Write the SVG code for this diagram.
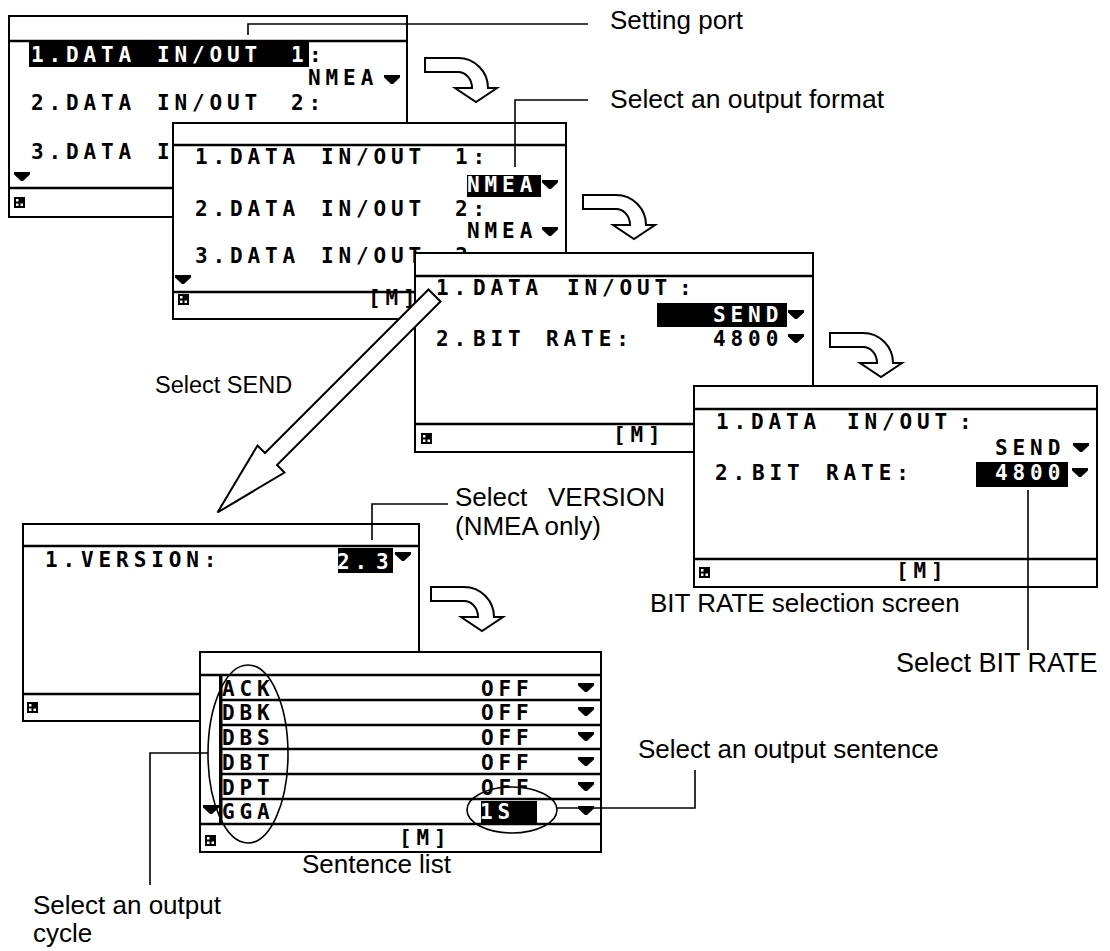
<svg xmlns="http://www.w3.org/2000/svg" xmlns:xlink="http://www.w3.org/1999/xlink" width="1110" height="951" viewBox="0 0 1110 951">
<style>
.box{fill:#fff;stroke:#000;stroke-width:2}
.ln{stroke:#000;stroke-width:2.5;fill:none}
.hl{fill:#000}
.lcd{font-family:"DejaVu Sans Mono","Liberation Mono",monospace;font-weight:bold;font-size:21px;letter-spacing:4.9px;fill:#000}
.w{fill:#fff}
.lbl{font-family:"Liberation Sans",Arial,sans-serif;font-size:26px;fill:#000}
.lead{stroke:#000;stroke-width:1.6;fill:none}
.arr{fill:#fff;stroke:#000;stroke-width:2;stroke-linejoin:miter}
.ell{fill:none;stroke:#000;stroke-width:1.6}
</style>
<defs>
<path id="carrow" d="M0,0 H33 A30,30 0 0 1 63,30 H72 L51,44 L30,30 H47 A14,16 0 0 0 33,14 H0 Z"/>
<polygon id="tri" points="0,0 16,0 16,2.5 9,9 7,9 0,2.5"/>
<g id="ico"><rect x="0" y="0" width="11" height="11" fill="#000"/><rect x="2" y="2" width="2.5" height="2.5" fill="#fff"/><rect x="2" y="6.5" width="2.5" height="2.5" fill="#fff"/><rect x="6.5" y="6.5" width="2.5" height="2.5" fill="#fff"/></g>
</defs>

<g id="screen1">
<rect class="box" x="9" y="16" width="398" height="201"/>
<line class="ln" x1="9" y1="41" x2="407" y2="41"/>
<line class="ln" x1="9" y1="188" x2="407" y2="188"/>
<rect class="hl" x="29" y="41" width="280" height="26"/>
<text class="lcd w" y="62" x="31 48.5 66 66 83.5 101 118.5 136 157 174.5 192 209.5 227 244.5 262 291">1. DATA IN/OUT 1</text>
<text class="lcd" x="309" y="62">:</text>
<text class="lcd" x="308" y="85">NMEA</text>
<use href="#tri" x="384" y="75"/>
<text class="lcd" y="110" x="31 48.5 66 66 83.5 101 118.5 136 157 174.5 192 209.5 227 244.5 262 291">2. DATA IN/OUT 2:</text>
<text class="lcd" y="159" x="31 48.5 66 66 83.5 101 118.5 136 157">3. DATA I</text>
<use href="#tri" x="14" y="172"/>
<use href="#ico" x="14" y="197"/>
</g>

<g id="screen2">
<rect class="box" x="173" y="123" width="393" height="196"/>
<line class="ln" x1="173" y1="145" x2="566" y2="145"/>
<line class="ln" x1="173" y1="292" x2="566" y2="292"/>
<text class="lcd" y="164" x="195 212.5 230 230 247.5 265 282.5 300 321 338.5 356 373.5 391 408.5 426 455">1. DATA IN/OUT 1:</text>
<rect class="hl" x="467" y="175" width="74" height="22"/>
<text class="lcd w" x="467" y="192">NMEA</text>
<use href="#tri" x="542" y="180"/>
<text class="lcd" y="216" x="195 212.5 230 230 247.5 265 282.5 300 321 338.5 356 373.5 391 408.5 426 455">2. DATA IN/OUT 2:</text>
<text class="lcd" x="467" y="238">NMEA</text>
<use href="#tri" x="542" y="227"/>
<text class="lcd" y="263" x="195 212.5 230 230 247.5 265 282.5 300 321 338.5 356 373.5 391 408.5 426 455">3. DATA IN/OUT 3:</text>
<use href="#tri" x="175" y="275"/>
<use href="#ico" x="178" y="294"/>
<text class="lcd" x="368" y="305">[M]</text>
</g>

<g id="screen3">
<rect class="box" x="415" y="253" width="398" height="199"/>
<line class="ln" x1="415" y1="276" x2="813" y2="276"/>
<line class="ln" x1="415" y1="424" x2="813" y2="424"/>
<text class="lcd" y="295" x="436 453.5 473 473 490.5 508 525.5 543 567 584.5 602 619.5 637 654.5 679">1. DATA IN/OUT:</text>
<rect class="hl" x="657" y="303" width="130" height="24"/>
<text class="lcd w" x="713" y="322">SEND</text>
<use href="#tri" x="788" y="310"/>
<text class="lcd" y="346" x="436 453.5 473 473 490.5 508 546 546">2. BIT RATE:</text>
<text class="lcd" x="713" y="346">4800</text>
<use href="#tri" x="788" y="334"/>
<use href="#ico" x="421" y="433"/>
<text class="lcd" x="613" y="442">[M]</text>
</g>

<g id="screen4">
<rect class="box" x="694" y="386" width="403" height="201"/>
<line class="ln" x1="694" y1="409" x2="1097" y2="409"/>
<line class="ln" x1="694" y1="559" x2="1097" y2="559"/>
<text class="lcd" y="429" x="716 733.5 751 751 768.5 786 803.5 821 847 864.5 882 899.5 917 934.5 959">1. DATA IN/OUT:</text>
<text class="lcd" x="995" y="455">SEND</text>
<use href="#tri" x="1073" y="443"/>
<text class="lcd" y="480" x="715 732.5 752 752 769.5 787 826 826">2. BIT RATE:</text>
<rect class="hl" x="976" y="462" width="92" height="25"/>
<text class="lcd w" x="995" y="480">4800</text>
<use href="#tri" x="1072" y="468"/>
<use href="#ico" x="699" y="567"/>
<text class="lcd" x="896" y="578">[M]</text>
</g>

<g id="screen5">
<rect class="box" x="23" y="524" width="396" height="197"/>
<line class="ln" x1="23" y1="546" x2="419" y2="546"/>
<line class="ln" x1="23" y1="694" x2="419" y2="694"/>
<text class="lcd" y="567" x="45 62.5 81 81">1. VERSION:</text>
<rect class="hl" x="338" y="548" width="55" height="25"/>
<text class="lcd w" y="569" x="337 354.5 376">2.3</text>
<use href="#tri" x="395" y="552"/>
<use href="#ico" x="27" y="702"/>
</g>

<g id="screen6">
<rect class="box" x="200" y="652" width="401" height="200"/>
<line class="ln" x1="200" y1="675" x2="601" y2="675"/>
<line class="ln" x1="221" y1="700" x2="601" y2="700"/>
<line class="ln" x1="221" y1="725" x2="601" y2="725"/>
<line class="ln" x1="221" y1="749" x2="601" y2="749"/>
<line class="ln" x1="221" y1="774" x2="601" y2="774"/>
<line class="ln" x1="221" y1="799" x2="601" y2="799"/>
<line class="ln" x1="200" y1="824" x2="601" y2="824"/>
<rect x="219" y="676" width="3.5" height="148" fill="#000"/>
<text class="lcd" x="222" y="696">ACK</text>
<text class="lcd" x="481" y="696">OFF</text>
<use href="#tri" x="578" y="683"/>
<text class="lcd" x="222" y="720">DBK</text>
<text class="lcd" x="481" y="720">OFF</text>
<use href="#tri" x="578" y="707"/>
<text class="lcd" x="222" y="745">DBS</text>
<text class="lcd" x="481" y="745">OFF</text>
<use href="#tri" x="578" y="732"/>
<text class="lcd" x="222" y="770">DBT</text>
<text class="lcd" x="481" y="770">OFF</text>
<use href="#tri" x="578" y="757"/>
<text class="lcd" x="222" y="795">DPT</text>
<text class="lcd" x="481" y="795">OFF</text>
<use href="#tri" x="578" y="782"/>
<use href="#tri" x="203" y="805"/>
<text class="lcd" x="222" y="819">GGA</text>
<rect class="hl" x="481" y="801" width="56" height="22"/>
<text class="lcd w" x="480" y="819">1S</text>
<use href="#tri" x="578" y="806"/>
<use href="#ico" x="205" y="835"/>
<text class="lcd" x="399" y="845">[M]</text>
</g>

<g id="flow-arrows">
<use href="#carrow" class="arr" x="425" y="58"/>
<use href="#carrow" class="arr" x="583" y="195"/>
<use href="#carrow" class="arr" x="830" y="333"/>
<use href="#carrow" class="arr" x="431" y="587"/>
</g>

<g id="connectors">
<polyline class="lead" points="248,35 248,24 588,24"/>
<polyline class="lead" points="515,167 515,100 588,100"/>
<polyline class="lead" points="372,540 372,504 448,504"/>
<line class="lead" x1="1028" y1="490" x2="1028" y2="650"/>
<polyline class="lead" points="208,753 150,753 150,885"/>
<polyline class="lead" points="557,808 695,808 695,770"/>
<ellipse class="ell" cx="248" cy="754" rx="40" ry="89"/>
<ellipse class="ell" cx="512" cy="810" rx="45" ry="23"/>
</g>

<g id="send-arrow">
<polygon class="arr" points="428.5,289.5 440.5,301.5 277,465 284.5,472.5 217.5,512.5 257.5,445.5 265,453"/>
</g>

<g id="labels">
<text class="lbl" x="610" y="29">Setting port</text>
<text class="lbl" x="610" y="108" style="font-size:26.5px">Select an output format</text>
<text class="lbl" style="font-size:23.5px" x="155" y="393">Select SEND</text>
<text class="lbl" y="506" x="455 472.3 486.8 492.6 507 520 527.3 548">Select VERSION</text>
<text class="lbl" x="455" y="535">(NMEA only)</text>
<text class="lbl" x="650" y="612">BIT RATE selection screen</text>
<text class="lbl" x="896" y="672" style="font-size:27px">Select BIT RATE</text>
<text class="lbl" x="638" y="758">Select an output sentence</text>
<text class="lbl" x="302" y="873">Sentence list</text>
<text class="lbl" x="33" y="914">Select an output</text>
<text class="lbl" x="33" y="942">cycle</text>
</g>
</svg>
